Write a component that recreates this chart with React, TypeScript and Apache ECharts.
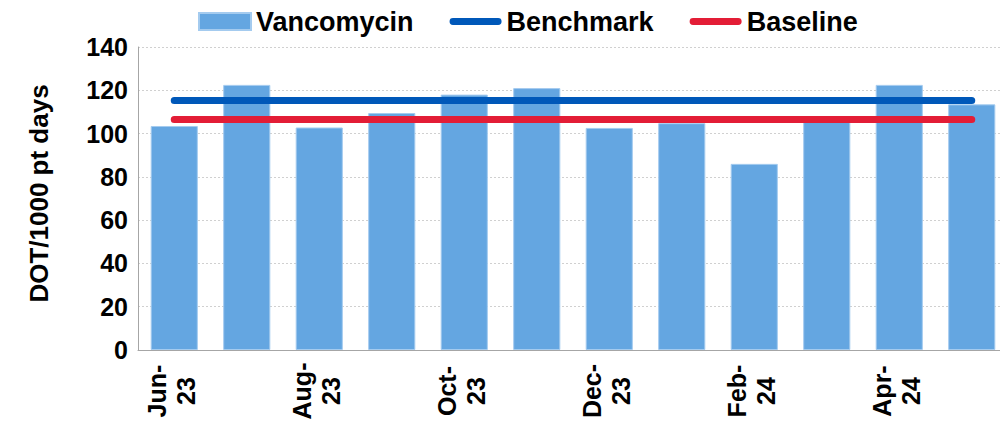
import React, { useEffect, useRef } from "react";
import * as echarts from "echarts";

const categories = ["Jun-23", "Jul-23", "Aug-23", "Sep-23", "Oct-23", "Nov-23", "Dec-23", "Jan-24", "Feb-24", "Mar-24", "Apr-24", "May-24"];
const vancomycin = [103.5, 122.5, 102.8, 109.5, 118, 121, 102.6, 104.8, 86, 106, 122.5, 113.5];
const benchmark = [115.3, 115.3, 115.3, 115.3, 115.3, 115.3, 115.3, 115.3, 115.3, 115.3, 115.3, 115.3];
const baseline = [106.5, 106.5, 106.5, 106.5, 106.5, 106.5, 106.5, 106.5, 106.5, 106.5, 106.5, 106.5];
const yTicks = { min: 0, max: 140, interval: 20 };

const FONT = "'Liberation Sans', Arial, sans-serif";
const lineIcon = "path://M3.5,0 H49.5 A3.5,3.5 0 0 1 49.5,7 H3.5 A3.5,3.5 0 0 1 3.5,0 Z";

export default function App() {
  const ref = useRef<HTMLDivElement>(null);
  useEffect(() => {
    document.body.style.margin = "0";
    if (!ref.current) return;
    const chart = echarts.init(ref.current, null, { renderer: "svg" });
    chart.setOption({
      animation: false,
      backgroundColor: "#ffffff",
      textStyle: { fontFamily: FONT },
      legend: {
        left: 193,
        top: 3,
        itemWidth: 52,
        itemHeight: 17,
        itemGap: 36,
        textStyle: { fontFamily: FONT, fontSize: 27, fontWeight: "bold", color: "#000" },
        data: [
          { name: "Vancomycin", icon: "rect" },
          { name: "Benchmark", icon: lineIcon },
          { name: "Baseline", icon: lineIcon },
        ],
      },
      grid: { left: 138, width: 870, top: 47, bottom: 76, containLabel: false, outerBoundsMode: "none" },
      xAxis: {
        type: "category",
        data: categories,
        axisLine: { show: true, lineStyle: { color: "#a6a6a6", width: 1 } },
        axisTick: { show: false },
        axisLabel: {
          interval: 1,
          rotate: 90,
          margin: 12,
          fontFamily: FONT,
          fontSize: 25,
          fontWeight: "bold",
          color: "#000",
          lineHeight: 29,
          padding: [0, 0, 6, 0],
          formatter: (v: string) => {
            const [m, y] = v.split("-");
            return `{c|${m}-}\n{c|${y}}`;
          },
          rich: {
            c: {
              align: "center",
              width: 58,
              fontFamily: FONT,
              fontSize: 25,
              fontWeight: "bold",
              color: "#000",
              lineHeight: 29,
            },
          },
        },
      },
      yAxis: {
        type: "value",
        min: yTicks.min,
        max: yTicks.max,
        interval: yTicks.interval,
        name: "DOT/1000 pt days",
        nameLocation: "middle",
        nameRotate: 90,
        nameGap: 86,
        nameTextStyle: { fontFamily: FONT, fontSize: 26, fontWeight: "bold", color: "#000", padding: [0, 0, 0, 10] },
        axisLine: { show: true, lineStyle: { color: "#a6a6a6", width: 1 } },
        axisTick: { show: false },
        axisLabel: { margin: 10, fontFamily: FONT, fontSize: 25, fontWeight: "bold", color: "#000" },
        splitLine: { show: true, lineStyle: { color: "#d0d0d0", type: [2, 2], width: 1 } },
      },
      series: [
        {
          name: "Vancomycin",
          type: "bar",
          data: vancomycin,
          barCategoryGap: "35%",
          itemStyle: { color: "#64a6e1", borderColor: "#a4cbef", borderWidth: 1 },
        },
        {
          name: "Benchmark",
          type: "line",
          data: benchmark,
          symbol: "none",
          lineStyle: { color: "#0058b9", width: 7, cap: "round" },
          itemStyle: { color: "#0058b9" },
        },
        {
          name: "Baseline",
          type: "line",
          data: baseline,
          symbol: "none",
          lineStyle: { color: "#e31d36", width: 7, cap: "round" },
          itemStyle: { color: "#e31d36" },
        },
      ],
    });
    return () => chart.dispose();
  }, []);
  return <div ref={ref} style={{ width: 1000, height: 426 }} />;
}
